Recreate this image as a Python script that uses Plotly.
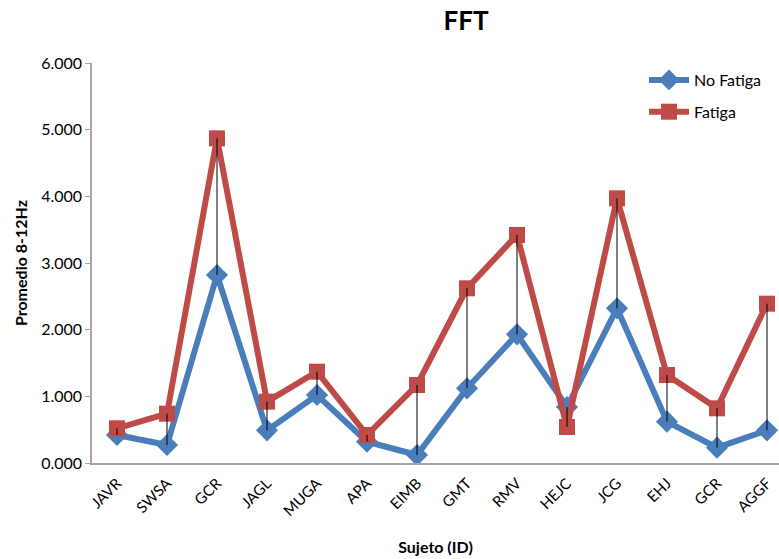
import plotly.graph_objects as go

categories = ["JAVR", "SWSA", "GCR", "JAGL", "MUGA", "APA", "EIMB",
              "GMT", "RMV", "HEJC", "JCG", "EHJ", "GCR", "AGGF"]
no_fatiga = [0.42, 0.27, 2.82, 0.49, 1.02, 0.32, 0.12,
             1.12, 1.93, 0.84, 2.32, 0.62, 0.23, 0.49]
fatiga = [0.52, 0.74, 4.87, 0.92, 1.37, 0.42, 1.17,
          2.62, 3.42, 0.54, 3.97, 1.32, 0.82, 2.39]
y_ticks = [0, 1, 2, 3, 4, 5, 6]
y_tick_labels = ["0.000", "1.000", "2.000", "3.000", "4.000", "5.000", "6.000"]

xs = list(range(len(categories)))
FONT = "Lato, 'Open Sans', sans-serif"

fig = go.Figure()
fig.add_trace(go.Scatter(
    x=xs, y=no_fatiga, name="No Fatiga", mode="lines+markers",
    line=dict(color="#4A7EBB", width=6),
    marker=dict(symbol="diamond", size=17, color="#4A7EBB"),
    legendgroup="a",
))
fig.add_trace(go.Scatter(
    x=xs, y=fatiga, name="Fatiga", mode="lines+markers",
    line=dict(color="#BE4B48", width=6),
    marker=dict(symbol="square", size=16, color="#BE4B48"),
    legendgroup="b",
))
hx, hy = [], []
for i, (a, b) in enumerate(zip(no_fatiga, fatiga)):
    hx += [i, i, None]
    hy += [a, b, None]
fig.add_trace(go.Scatter(
    x=hx, y=hy, mode="lines", line=dict(color="black", width=1),
    showlegend=False, hoverinfo="skip",
))

fig.update_layout(
    width=779, height=559,
    margin=dict(l=92, r=0, t=63, b=96, autoexpand=False),
    paper_bgcolor="white", plot_bgcolor="white",
    font=dict(family=FONT, color="#000000"),
    title=dict(text="<b>FFT</b>", x=466/779, xanchor="center", y=1-21/559,
               yanchor="middle", font=dict(size=26, family=FONT)),
    legend=dict(x=(644-92)/687, y=(463-63)/400, xanchor="left", yanchor="top",
                font=dict(size=16, family=FONT), tracegroupgap=8,
                bgcolor="rgba(0,0,0,0)", itemwidth=40),
    showlegend=True,
)
fig.update_xaxes(
    tickmode="array", tickvals=xs, ticktext=categories, tickangle=-45,
    range=[-0.5, 13.24], showgrid=False, zeroline=False,
    showline=True, linecolor="#A6A6A6", linewidth=1.5,
    tickfont=dict(size=15, family=FONT), ticks="outside", ticklen=4,
    tickcolor="rgba(0,0,0,0)",
    title=dict(text="<b>Sujeto (ID)</b>", font=dict(size=16, family=FONT), standoff=24),
)
fig.update_yaxes(
    tickmode="array", tickvals=y_ticks, ticktext=y_tick_labels,
    range=[0, 6], showgrid=False, zeroline=False,
    showline=True, linecolor="#A6A6A6", linewidth=1.5,
    ticks="outside", ticklen=5, tickcolor="#A6A6A6",
    tickfont=dict(size=16, family=FONT),
    title=dict(text="<b>Promedio 8-12Hz</b>", font=dict(size=16, family=FONT), standoff=10),
)

fig.write_html("out.html")
